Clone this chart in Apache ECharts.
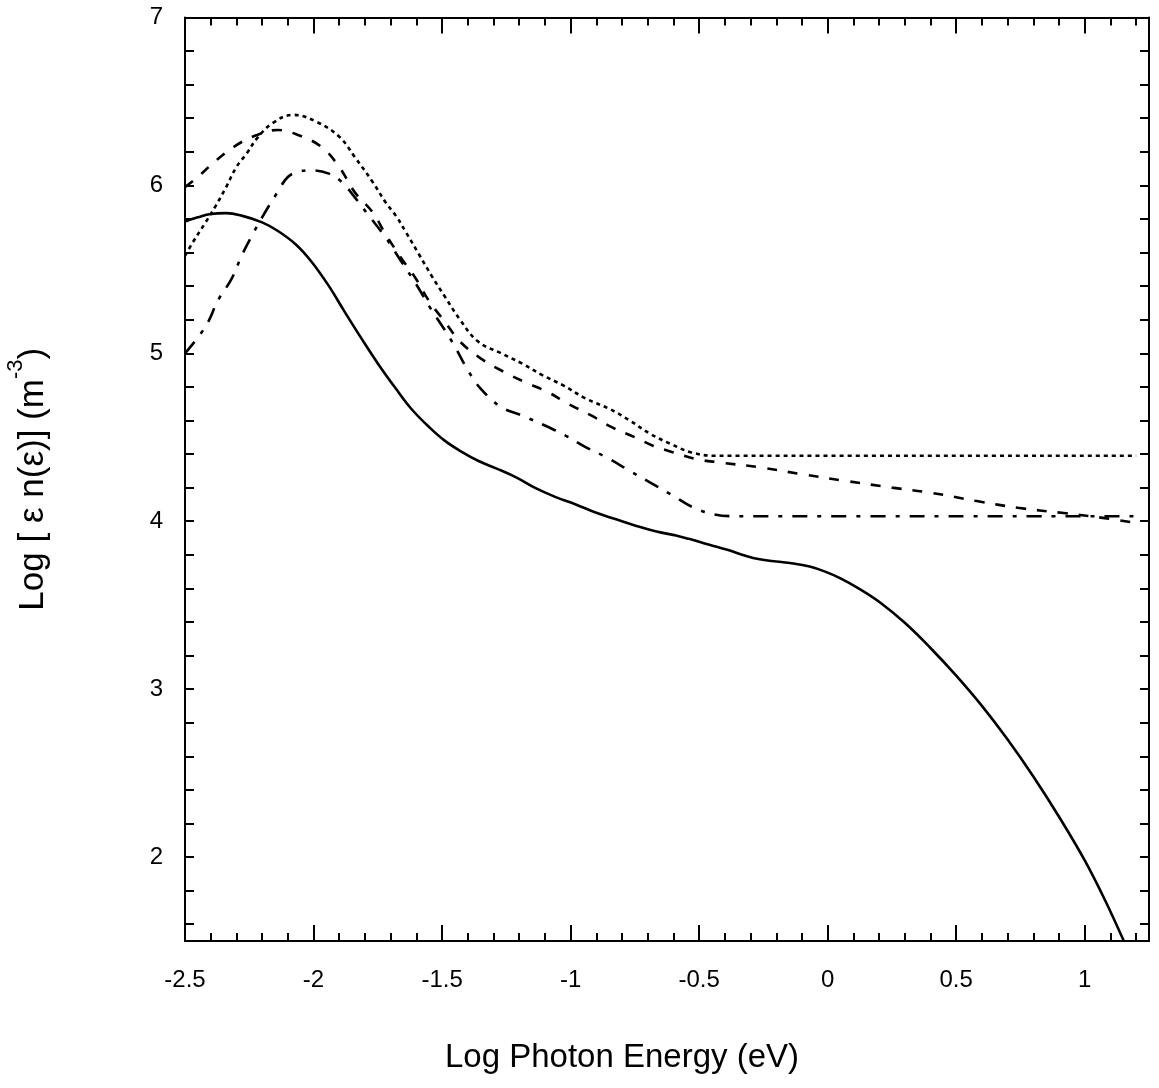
<!DOCTYPE html>
<html lang="en">
<head>
    <meta charset="UTF-8">
    <title>Photon Energy Density</title>
    <script src="https://cdn.jsdelivr.net/npm/echarts@6/dist/echarts.min.js"></script>
    <style>
        html, body { margin: 0; padding: 0; background: #fff; }
    </style>
</head>
<body>
    <div id="main" style="width:1159px; height:1088px;"></div>

<script>
    // values: x = Log photon energy (eV), y = Log [e n(e)]
    var solidX = [-2.5, -2.45, -2.40, -2.34, -2.28, -2.20, -2.14, -2.07, -2.01, -1.94, -1.88, -1.81, -1.75, -1.68, -1.62, -1.55, -1.49, -1.42, -1.36, -1.29, -1.21, -1.14, -1.06, -0.98, -0.90, -0.82, -0.75, -0.67, -0.59, -0.54, -0.46, -0.39, -0.32, -0.27, -0.20, -0.14, -0.07, -0.01, 0.05, 0.12, 0.20, 0.30, 0.40, 0.50, 0.60, 0.70, 0.80, 0.90, 1.00, 1.08, 1.152];
    var solidY = [5.785, 5.81, 5.83, 5.835, 5.82, 5.78, 5.73, 5.65, 5.55, 5.40, 5.25, 5.08, 4.94, 4.79, 4.67, 4.56, 4.48, 4.41, 4.36, 4.315, 4.26, 4.20, 4.145, 4.10, 4.05, 4.01, 3.975, 3.94, 3.915, 3.895, 3.86, 3.83, 3.795, 3.775, 3.76, 3.75, 3.73, 3.70, 3.66, 3.60, 3.52, 3.395, 3.245, 3.08, 2.90, 2.70, 2.48, 2.24, 1.98, 1.74, 1.50];

    var dotX = [-2.5, -2.47, -2.42, -2.38, -2.34, -2.30, -2.26, -2.22, -2.16, -2.08, -1.99, -1.90, -1.84, -1.77, -1.72, -1.68, -1.64, -1.59, -1.54, -1.49, -1.43, -1.36, -1.27, -1.19, -1.11, -1.03, -0.94, -0.85, -0.77, -0.69, -0.61, -0.53, -0.44, 1.2];
    var dotY = [5.58, 5.66, 5.78, 5.88, 5.99, 6.11, 6.19, 6.28, 6.37, 6.42, 6.38, 6.29, 6.17, 6.02, 5.90, 5.82, 5.72, 5.59, 5.46, 5.34, 5.20, 5.07, 5.00, 4.94, 4.87, 4.81, 4.73, 4.67, 4.60, 4.52, 4.46, 4.41, 4.39, 4.39];

    var dashX = [-2.5, -2.45, -2.40, -2.31, -2.22, -2.14, -2.06, -1.97, -1.90, -1.84, -1.77, -1.72, -1.66, -1.60, -1.55, -1.49, -1.43, -1.35, -1.26, -1.18, -1.09, -1.01, -0.92, -0.84, -0.75, -0.68, -0.60, -0.51, -0.42, -0.26, -0.10, 0.07, 0.25, 0.40, 0.58, 0.74, 0.91, 1.07, 1.20];
    var dashY = [5.99, 6.05, 6.12, 6.23, 6.30, 6.33, 6.30, 6.23, 6.11, 5.96, 5.84, 5.71, 5.57, 5.44, 5.31, 5.19, 5.07, 4.97, 4.89, 4.83, 4.77, 4.70, 4.63, 4.56, 4.50, 4.45, 4.41, 4.37, 4.35, 4.32, 4.28, 4.24, 4.20, 4.17, 4.12, 4.08, 4.05, 4.02, 3.99];

    var ddX = [-2.5, -2.42, -2.37, -2.32, -2.28, -2.24, -2.20, -2.14, -2.10, -2.06, -2.01, -1.94, -1.89, -1.84, -1.79, -1.72, -1.66, -1.60, -1.55, -1.49, -1.45, -1.40, -1.35, -1.27, -1.19, -1.10, -1.02, -0.94, -0.86, -0.77, -0.69, -0.61, -0.52, -0.44, -0.36, 1.20];
    var ddY = [5.00, 5.16, 5.32, 5.44, 5.58, 5.70, 5.81, 5.96, 6.05, 6.08, 6.09, 6.07, 6.02, 5.93, 5.83, 5.69, 5.55, 5.41, 5.28, 5.14, 5.04, 4.90, 4.79, 4.68, 4.63, 4.57, 4.51, 4.44, 4.38, 4.30, 4.23, 4.16, 4.08, 4.04, 4.03, 4.03];

    var xMajor = [-2.5, -2, -1.5, -1, -0.5, 0, 0.5, 1];
    var xMinor = [-2.4, -2.3, -2.2, -2.1, -1.9, -1.8, -1.7, -1.6, -1.4, -1.3, -1.2, -1.1, -0.9, -0.8, -0.7, -0.6, -0.4, -0.3, -0.2, -0.1, 0.1, 0.2, 0.3, 0.4, 0.6, 0.7, 0.8, 0.9, 1.1, 1.2];
    var yLabels = [2, 3, 4, 5, 6, 7];
    var yTicks = [1.6, 1.8, 2, 2.2, 2.4, 2.6, 2.8, 3, 3.2, 3.4, 3.6, 3.8, 4, 4.2, 4.4, 4.6, 4.8, 5, 5.2, 5.4, 5.6, 5.8, 6, 6.2, 6.4, 6.6, 6.8];

    function pairs(xs, ys) {
        var out = [];
        for (var i = 0; i < xs.length; i++) {
            out.push([xs[i], ys[i]]);
        }
        return out;
    }

    var font = "'Liberation Sans', Arial, sans-serif";
    var black = '#000';

    function xAxisOf(pos, ticks, len, labels) {
        return {
            type: 'value',
            position: pos,
            min: -2.5,
            max: 1.25,
            axisLine: { show: true, onZero: false, lineStyle: { color: black, width: 2 } },
            axisTick: { show: true, inside: true, length: len, customValues: ticks, lineStyle: { color: black, width: 2 } },
            axisLabel: labels ? {
                show: true,
                customValues: xMajor,
                margin: 27,
                color: black,
                fontSize: 24,
                fontFamily: font,
                formatter: function (v) { return String(v); }
            } : { show: false },
            splitLine: { show: false }
        };
    }

    function yAxisOf(pos, labels) {
        return {
            type: 'value',
            position: pos,
            min: 1.5,
            max: 7,
            axisLine: { show: true, onZero: false, lineStyle: { color: black, width: 2 } },
            axisTick: { show: true, inside: true, length: 9, customValues: yTicks, lineStyle: { color: black, width: 2 } },
            axisLabel: labels ? {
                show: true,
                customValues: yLabels,
                margin: 22,
                color: black,
                fontSize: 24,
                fontFamily: font
            } : { show: false },
            splitLine: { show: false }
        };
    }

    var myChart = echarts.init(document.getElementById('main'), null, { renderer: 'canvas' });

    var bottomMajor = xAxisOf('bottom', xMajor, 16, true);
    bottomMajor.name = 'Log Photon Energy (eV)';
    bottomMajor.nameLocation = 'middle';
    bottomMajor.nameGap = 100;
    bottomMajor.nameTextStyle = { color: black, fontSize: 33, fontFamily: font, padding: [0, 90, 0, 0] };

    var leftAxis = yAxisOf('left', true);
    leftAxis.name = '{n|Log [ ε n(ε)] (m}{s|-3}{n|)}';
    leftAxis.nameLocation = 'middle';
    leftAxis.nameGap = 134;
    leftAxis.nameTextStyle = {
        color: black,
        fontFamily: font,
        rich: {
            n: { fontSize: 35, fontFamily: font, color: black, lineHeight: 46, verticalAlign: 'bottom' },
            s: { fontSize: 22, fontFamily: font, color: black, lineHeight: 46, verticalAlign: 'top' }
        }
    };

    var lineBase = { type: 'line', showSymbol: false, symbol: 'none', smooth: 0.4, xAxisIndex: 0, yAxisIndex: 0, silent: true };

    var option = {
        animation: false,
        backgroundColor: '#fff',
        grid: { left: 185, right: 10, top: 17.5, bottom: 147, containLabel: false, outerBoundsMode: 'none' },
        xAxis: [
            bottomMajor,
            xAxisOf('bottom', xMinor, 8, false),
            xAxisOf('top', xMajor, 16, false),
            xAxisOf('top', xMinor, 8, false)
        ],
        yAxis: [
            leftAxis,
            yAxisOf('right', false)
        ],
        series: [
            Object.assign({}, lineBase, {
                name: 'solid',
                data: pairs(solidX, solidY),
                lineStyle: { color: black, width: 2.6, type: 'solid' }
            }),
            Object.assign({}, lineBase, {
                name: 'dotted',
                data: pairs(dotX, dotY),
                lineStyle: { color: black, width: 2.6, type: [4, 4] }
            }),
            Object.assign({}, lineBase, {
                name: 'dashed',
                data: pairs(dashX, dashY),
                lineStyle: { color: black, width: 2.6, type: [10, 11] }
            }),
            Object.assign({}, lineBase, {
                name: 'dashdot',
                data: pairs(ddX, ddY),
                lineStyle: { color: black, width: 2.6, type: [15, 10, 4, 10] }
            })
        ]
    };

    myChart.setOption(option);
</script>
</body>
</html>
